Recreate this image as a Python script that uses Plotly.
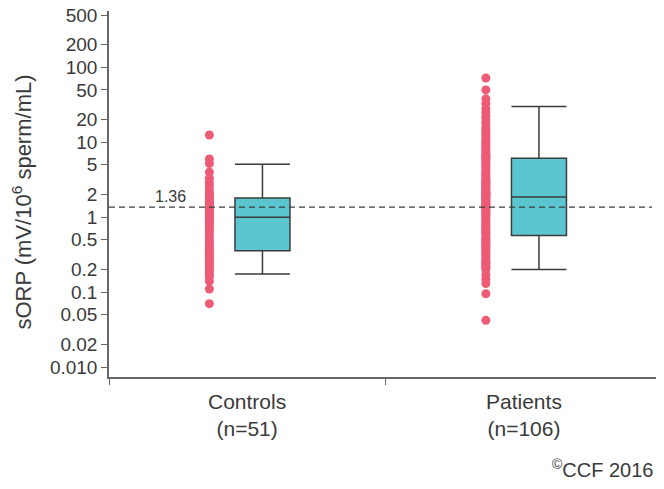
import math
import plotly.graph_objects as go

# ---- data ----
categories = ["Controls<br>(n=51)", "Patients<br>(n=106)"]

controls_values = [12.5, 6.0, 5.2, 4.0, 3.3, 2.9, 2.6, 2.3, 2.1, 2.0, 1.9, 1.8, 1.75,
                   1.65, 1.55, 1.5, 1.42, 1.36, 1.3, 1.25, 1.2, 1.12, 1.05, 1.0, 0.95,
                   0.9, 0.85, 0.8, 0.74, 0.68, 0.62, 0.56, 0.5, 0.46, 0.42, 0.38, 0.36,
                   0.34, 0.31, 0.29, 0.27, 0.25, 0.23, 0.21, 0.2, 0.185, 0.17, 0.16,
                   0.14, 0.11, 0.07]

patients_values = [72, 50, 38, 33,
                   28, 25, 22, 20, 18, 16, 15, 14, 13, 12, 11, 10, 9.5, 9, 8.5, 8, 7.5,
                   7, 6.8, 6.5, 6.3, 6.1,
                   5.8, 5.5, 5.2, 5.0, 4.7, 4.4, 4.1, 3.9, 3.7, 3.5, 3.3, 3.1, 3.0, 2.9,
                   2.8, 2.7, 2.6, 2.5, 2.4, 2.3, 2.2, 2.15, 2.1, 2.05, 2.0, 1.95, 1.9,
                   1.8, 1.75, 1.7, 1.65, 1.6, 1.55, 1.5, 1.45, 1.4, 1.36, 1.3, 1.25, 1.2,
                   1.15, 1.1, 1.05, 1.0, 0.95, 0.9, 0.85, 0.8, 0.76, 0.72, 0.68, 0.65,
                   0.62, 0.59,
                   0.55, 0.52, 0.5, 0.48, 0.46, 0.44, 0.42, 0.4, 0.38, 0.36, 0.34, 0.32,
                   0.3, 0.28, 0.26, 0.25, 0.24, 0.23, 0.22, 0.21, 0.2, 0.17, 0.15, 0.13,
                   0.095, 0.042]

# box statistics: [controls, patients]
box_lower = [0.175, 0.2]
box_q1 = [0.357, 0.57]
box_median = [1.0, 1.86]
box_q3 = [1.8, 6.1]
box_upper = [5.1, 30]

cutoff = 1.36

y_tickvals = [500, 200, 100, 50, 20, 10, 5, 2, 1, 0.5, 0.2, 0.1, 0.05, 0.02, 0.01]
y_ticktext = ["500", "200", "100", "50", "20", "10", "5", "2", "1", "0.5", "0.2",
              "0.1", "0.05", "0.02", "0.010"]

# ---- styling ----
DOT = "#EE5B76"
BOX = "#5BC6D0"
LINE = "#3C3C3C"
AXIS = "#666666"
TEXT = "#3A3A3A"
FONT = "Liberation Sans, Arial, Helvetica, sans-serif"

centers = [0.5, 1.5]
dot_off = -0.137
box_off = 0.055

fig = go.Figure()

for c, vals in zip(centers, [controls_values, patients_values]):
    fig.add_trace(go.Scatter(
        x=[c + dot_off] * len(vals), y=vals, mode="markers",
        marker=dict(size=9, color=DOT, line=dict(width=0)),
        showlegend=False, hoverinfo="y"))

for i, c in enumerate(centers):
    fig.add_trace(go.Box(
        x=[c + box_off], q1=[box_q1[i]], median=[box_median[i]], q3=[box_q3[i]],
        lowerfence=[box_lower[i]], upperfence=[box_upper[i]],
        width=0.199, whiskerwidth=1, fillcolor=BOX,
        line=dict(color=LINE, width=1.5), boxpoints=False, showlegend=False))

fig.add_shape(type="line", xref="x", yref="y", x0=0, x1=1.964, y0=cutoff, y1=cutoff,
              line=dict(color=LINE, width=1.2, dash="6px,4px"))

fig.add_annotation(x=0.224, y=math.log10(cutoff), xref="x", yref="y", text=str(cutoff),
                   showarrow=False, yanchor="bottom", yshift=0,
                   font=dict(size=16, color=TEXT, family=FONT))

for c, lab in zip(centers, categories):
    fig.add_annotation(x=c, y=0, xref="x", yref="paper", text=lab,
                       showarrow=False, yanchor="top", yshift=-11,
                       font=dict(size=21, color=TEXT, family=FONT))

fig.add_annotation(x=-0.157, y=0.477, xref="paper", yref="paper",
                   text="sORP (mV/10<sup>6</sup> sperm/mL)", textangle=-90,
                   showarrow=False, xanchor="center", yanchor="middle",
                   font=dict(size=22, color=TEXT, family=FONT))

fig.add_annotation(x=0.987, y=-0.249, xref="paper", yref="paper",
                   text="<sup>©</sup>CCF 2016", showarrow=False,
                   xanchor="right", yanchor="middle",
                   font=dict(size=20, color=TEXT, family=FONT))

fig.update_layout(
    width=656, height=481,
    margin=dict(l=101, r=2, t=3, b=112),
    paper_bgcolor="white", plot_bgcolor="white",
    font=dict(family=FONT, color=TEXT, size=18),
    xaxis=dict(range=[0, 2], showgrid=False, zeroline=False, showline=True,
               linecolor=AXIS, linewidth=1.5, ticks="outside", ticklen=6,
               tickcolor=AXIS, tickvals=[0, 1, 2], showticklabels=False),
    yaxis=dict(type="log", range=[-2.1335, 2.7524], showgrid=False, zeroline=False,
               showline=True, linecolor=AXIS, linewidth=1.5, ticks="outside",
               ticklen=6, tickcolor=AXIS, tickvals=y_tickvals, ticktext=y_ticktext,
               tickfont=dict(size=19, color=TEXT, family=FONT), automargin=False,
               ticklabeloverflow="allow"),
)

fig.write_html("out.html")
